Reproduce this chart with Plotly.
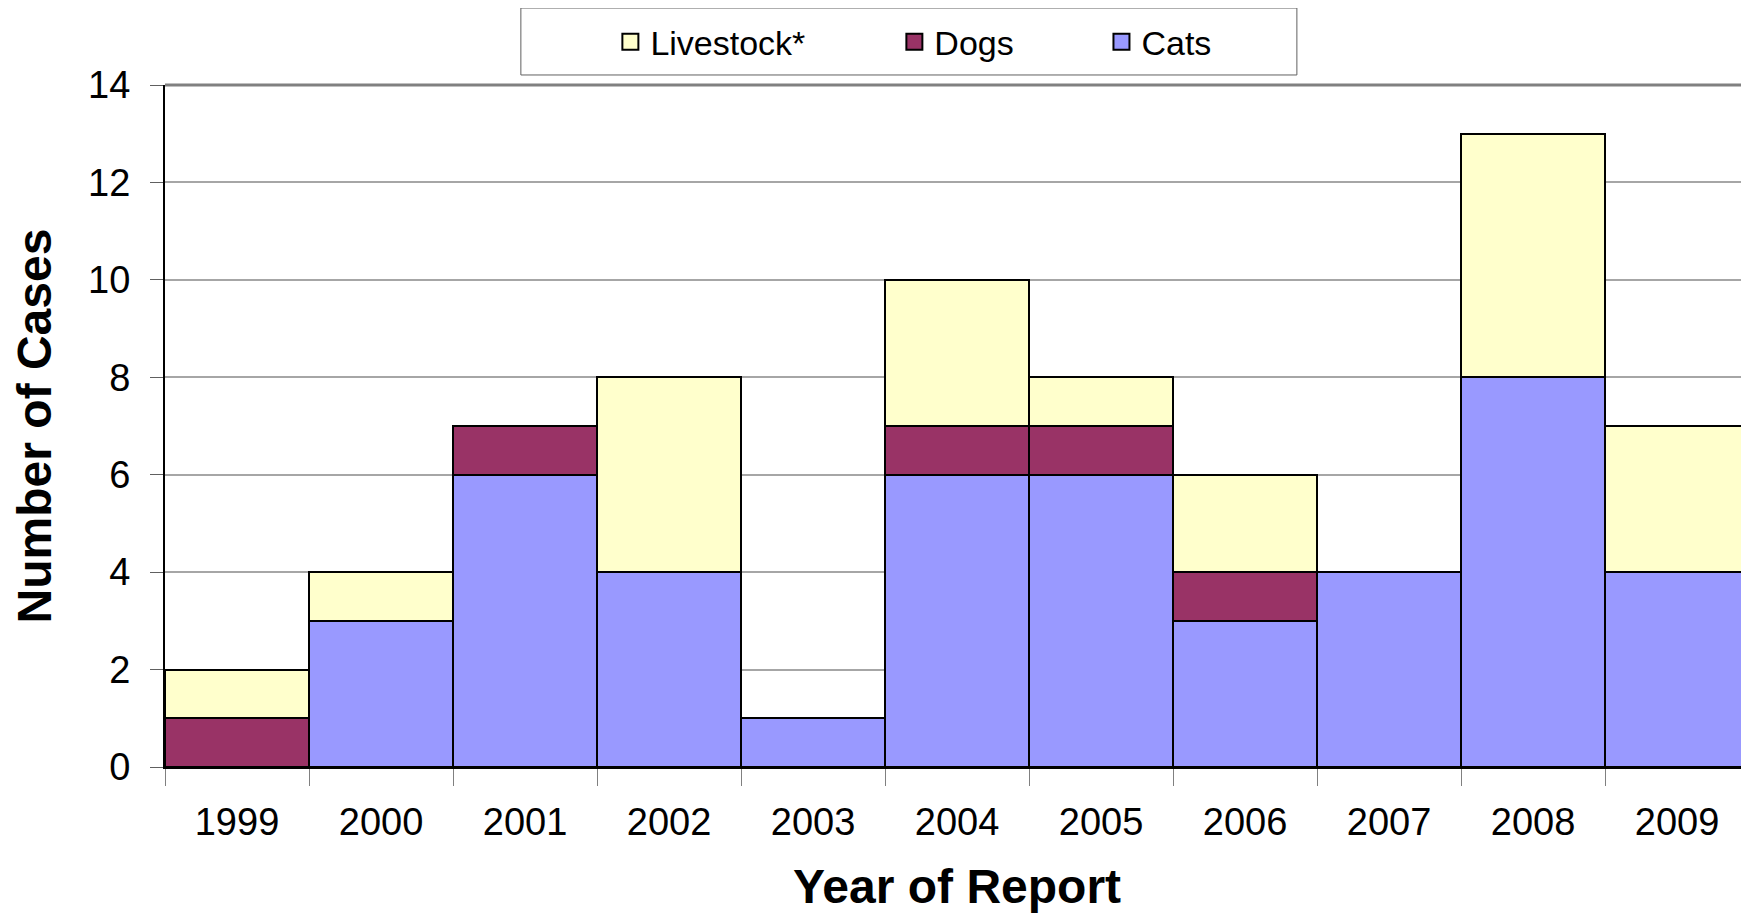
import plotly.graph_objects as go

years = ["1999", "2000", "2001", "2002", "2003", "2004", "2005", "2006", "2007", "2008", "2009"]
cats = [0, 3, 6, 4, 1, 6, 6, 3, 4, 8, 4]
dogs = [1, 0, 1, 0, 0, 1, 1, 1, 0, 0, 0]
livestock = [1, 1, 0, 4, 0, 3, 1, 2, 0, 5, 3]

series = [
    ("Cats", cats, "#9999FF"),
    ("Dogs", dogs, "#993366"),
    ("Livestock*", livestock, "#FFFFCC"),
]
legend_ids = {"Livestock*": "legend", "Dogs": "legend2", "Cats": "legend3"}
legend_x = {"legend": 0.2826, "legend2": 0.4628, "legend3": 0.5942}

FONT = "Liberation Sans, Arial, sans-serif"

fig = go.Figure()
for name, vals, color in series:
    fig.add_trace(go.Bar(
        x=years, y=vals, name=name, showlegend=False,
        marker=dict(color=color, line=dict(color="black", width=2.5)),
    ))
# legend swatches
for name, vals, color in series:
    fig.add_trace(go.Scatter(
        x=[None], y=[None], mode="markers", name=name, legend=legend_ids[name],
        marker=dict(symbol="square", size=20, color=color, line=dict(color="black", width=2)),
    ))

leg_common = dict(
    orientation="h", xanchor="left", y=1.063, yanchor="middle",
    borderwidth=0, bgcolor="rgba(0,0,0,0)", itemsizing="trace",
    font=dict(size=34, family=FONT, color="black"),
)
layout_legends = {lid: dict(x=lx, **leg_common) for lid, lx in legend_x.items()}

# page body adds an 8px offset; compensate so the plot lands where the reference has it
fig.update_layout(
    width=1733, height=905,
    barmode="stack", bargap=0,
    paper_bgcolor="white", plot_bgcolor="white",
    margin=dict(l=157, r=0, t=77, b=146, autoexpand=False),
    font=dict(family=FONT, color="black", size=36),
    showlegend=True,
    **layout_legends,
)
# legend frame
fig.add_shape(type="rect", xref="paper", yref="paper",
              x0=0.2258, x1=0.7182, y0=1.0147, y1=1.1129,
              line=dict(color="#606060", width=1), fillcolor="rgba(0,0,0,0)")
# plot-area top border
fig.add_shape(type="line", xref="paper", yref="paper", x0=0, x1=1, y0=1, y1=1,
              line=dict(color="#808080", width=3), layer="below")
# x-axis title
fig.add_annotation(text="<b>Year of Report</b>", xref="paper", yref="paper",
                   x=0.5025, y=-0.1745, xanchor="center", yanchor="middle",
                   showarrow=False, font=dict(size=48, family=FONT, color="black"))

fig.update_xaxes(
    type="category", range=[-0.5, 10.444],
    showline=True, linecolor="black", linewidth=2,
    ticks="outside", tickson="boundaries", ticklen=17, tickcolor="#808080",
    ticklabelstandoff=20,
    showgrid=False, automargin=False,
    tickfont=dict(size=38, family=FONT),
)
fig.update_yaxes(
    range=[0, 14], dtick=2,
    showline=True, linecolor="black", linewidth=2,
    ticks="outside", ticklen=13, tickcolor="#606060",
    ticklabelstandoff=12,
    showgrid=True, gridcolor="#A6A6A6", gridwidth=1.5,
    automargin=False,
    tickfont=dict(size=38, family=FONT),
    title=dict(text="<b>Number of Cases</b>", font=dict(size=48, family=FONT), standoff=24),
    zeroline=False,
)

fig.write_html("out.html")
